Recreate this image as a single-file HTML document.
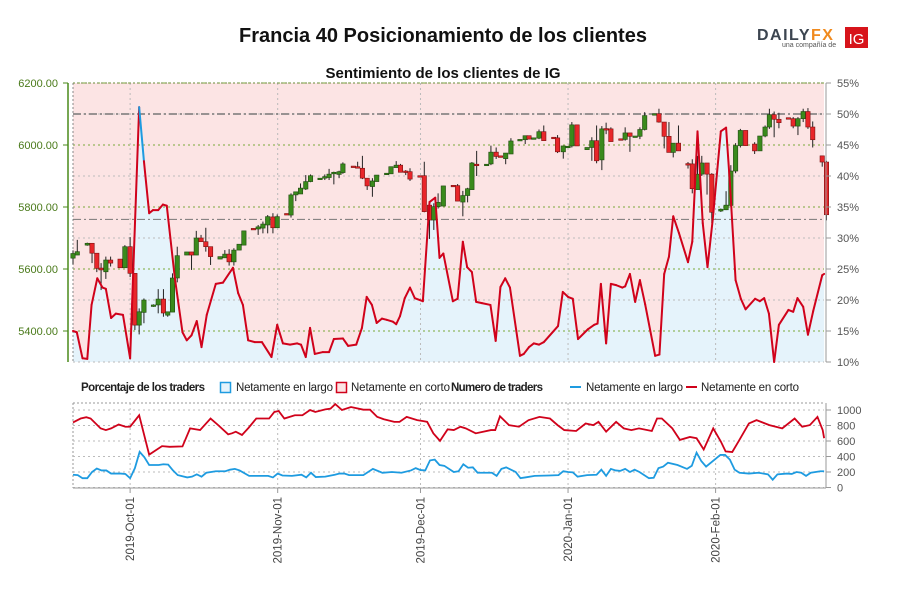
<!DOCTYPE html>
<html><head><meta charset="utf-8"><style>
html,body{margin:0;padding:0;background:#fff;}
svg{display:block;font-family:"Liberation Sans",sans-serif;}
</style></head><body>
<svg id="chart" width="900" height="600" viewBox="0 0 900 600">
<text x="443" y="42" text-anchor="middle" font-size="20" font-weight="bold" fill="#111">Francia 40 Posicionamiento de los clientes</text>
<g>
<text x="757" y="40" font-size="16" font-weight="bold" fill="#3c4550" letter-spacing="1.5">DAILY<tspan fill="#f08a1e">FX</tspan></text>
<text x="782" y="47" font-size="7" fill="#555">una compañía de</text>
<rect x="845" y="27" width="23" height="21" fill="#d7141b"/>
<text x="856.5" y="44" text-anchor="middle" font-size="15" fill="#fff">IG</text>
</g>
<text x="443" y="78" text-anchor="middle" font-size="15" font-weight="bold" fill="#111">Sentimiento de los clientes de IG</text>
<g id="main"></g>
<g id="legend">
<text x="81" y="391" font-size="11.5" font-weight="bold" fill="#222" textLength="124">Porcentaje de los traders</text>
<rect x="220.5" y="382.5" width="10" height="10" fill="#e5f3fb" stroke="#1e9be0" stroke-width="1.5"/>
<text x="236" y="391" font-size="11.5" fill="#222" textLength="97">Netamente en largo</text>
<rect x="336.5" y="382.5" width="10" height="10" fill="#fce4e4" stroke="#d0021b" stroke-width="1.5"/>
<text x="351" y="391" font-size="11.5" fill="#222" textLength="99">Netamente en corto</text>
<text x="451" y="391" font-size="11.5" font-weight="bold" fill="#222" textLength="92">Numero de traders</text>
<line x1="570" y1="387" x2="581" y2="387" stroke="#1e9be0" stroke-width="2"/>
<text x="586" y="391" font-size="11.5" fill="#222" textLength="97">Netamente en largo</text>
<line x1="686" y1="387" x2="697" y2="387" stroke="#d0021b" stroke-width="2"/>
<text x="701" y="391" font-size="11.5" fill="#222" textLength="98">Netamente en corto</text>
</g>
<g id="lower"></g>
</svg>
<script>
// ---- data ----
const monthLabels = ["2019-Oct-01","2019-Nov-01","2019-Dec-01","2020-Jan-01","2020-Feb-01"];
const monthDays = [12,43,73,104,135];
const priceTicks = [6200,6000,5800,5600,5400];
const pctTicks = [55,50,45,40,35,30,25,20,15,10];
const countTicks = [1000,800,600,400,200,0];
const levelHigh = 6100;
const levelLow = 5760;

const sentDays = [0,0.8,2,3,3.9,5.1,6.2,6.9,8,9,10.5,12,13.9,14.9,16,16.8,17.9,18.9,19.7,21.4,23,23.9,24.9,26,27,28.1,30,31.5,33.6,34.7,35.7,36.8,38.2,39.7,41.7,42.9,44.1,45.6,47.1,47.9,48.9,49.8,50.8,52.5,53.8,54.8,56.7,57.8,59.5,60.7,61.7,62.8,63.8,64.9,65.9,67.2,67.9,68.7,69.7,70.8,71.8,73.5,74.9,76.1,77,77.8,79.8,80.8,81.9,82.8,83.8,84.7,85.9,87.7,88.8,89.8,90.8,91.8,93.9,94.7,95.8,96.8,97.9,98.9,101.9,102.9,104,105,106.1,108.2,109.5,110.2,110.9,112,113,114.1,115.4,116,117,118.1,119.1,120.2,122.3,123.2,124.2,125.2,126.1,127.3,129.2,130.1,131.2,132.3,133.3,134.4,136.1,137.2,138,139.2,140.3,141.3,143.3,144.3,145.2,146.2,147.3,148.3,150.3,151.3,152.2,153.4,154.4,155.5,157.4,157.8];
const sentLong = [15,14.8,10.6,10.5,19.2,23.5,22,21.8,17.1,17.8,17.6,10.6,51.1,42.4,34,34.5,34.5,35.4,35.2,23.5,14.8,13.5,14.3,16.6,12.4,17.6,22.6,22.8,25.2,21.1,19.2,13.5,13.2,13.2,10.8,16,13,12.8,13,12.8,10.8,15.5,11.3,11.6,11.6,13.7,13.8,12.6,12.8,15.5,20.5,19.2,16.3,17,16.8,16.5,16.1,17.4,20.3,22,20.3,19.8,35.8,36.5,26.8,27.5,19.8,20.2,29.4,25.3,24.5,19.7,19.5,19.2,13.4,22.1,23.5,22,11,11.3,12.4,13,12.8,13.2,15.8,21.3,20.5,20.2,13.7,15.3,16,16.2,22.6,13,22.6,22.4,22,22.2,24.2,19.7,23.2,19.3,11,11.2,24.2,27,33.5,30.8,26.1,29.4,47.2,32.4,25.3,33,47.2,47.8,38.9,23.2,20.2,18.5,20.2,19.8,20.3,17.8,10,16,18.4,18.1,20.3,18.9,14.4,18.2,24,24.2];

const candleDays = [0,0.9,3,4,5,5.9,6.9,7.9,9.9,10.9,12,13,13.9,14.9,16.9,17.9,19,19.9,20.9,21.9,23.9,24.9,25.9,26.9,27.9,28.9,30.9,31.9,32.8,33.8,34.9,35.9,37.9,38.9,39.9,40.9,42,42.9,44.9,45.8,46.8,47.8,48.9,49.9,51.9,52.9,53.8,54.8,55.9,56.7,58.9,59.8,60.8,61.8,62.9,63.8,65.9,66.8,67.9,68.8,69.9,70.8,72.9,73.8,74.9,75.8,76.7,77.8,79.9,80.8,81.9,82.9,83.8,84.8,86.9,87.8,88.9,89.8,90.9,92,93.9,95,95.8,96.8,97.9,98.9,101,101.8,103,104,104.8,105.9,108,109,110,111.1,112,113,115.1,116,117,118.1,119.1,120.1,122.2,123.1,124.2,125.2,126.1,127.2,129.2,130.1,131.2,132.1,133.2,134.2,136.1,137.2,138.2,139.2,140.2,141.3,143.2,144.3,145.4,146.3,147.3,148.3,150.3,151.3,152.3,153.4,154.4,155.4,157.4,158.3];
const candleOpen = [5635,5645,5677,5683,5651,5603,5591,5629,5632,5604,5672,5586,5419,5460,5480,5484,5503,5451,5461,5571,5645,5655,5645,5700,5688,5672,5632,5636,5648,5623,5661,5677,5731,5729,5732,5742,5768,5733,5779,5774,5839,5842,5858,5882,5891,5893,5895,5907,5905,5911,5932,5930,5925,5893,5866,5882,5907,5907,5927,5935,5916,5914,5901,5901,5806,5758,5801,5803,5870,5869,5816,5837,5856,5938,5937,5939,5977,5965,5956,5971,6016,6017,6030,6022,6022,6043,6025,6023,5978,5995,5997,6065,5985,5992,6014,5952,6053,6052,6020,6018,6039,6028,6028,6050,6099,6101,6074,6028,5976,6006,5940,5939,5856,5906,5942,5906,5787,5791,5805,5916,5998,6047,6003,5981,6029,6058,6098,6083,6088,6085,6061,6085,6108,6058,5965,5945];
const candleClose = [5650,5656,5683,5651,5602,5597,5629,5619,5604,5672,5586,5419,5462,5500,5484,5503,5458,5462,5571,5643,5655,5645,5700,5688,5672,5640,5640,5648,5623,5661,5680,5723,5729,5736,5745,5769,5733,5769,5776,5839,5849,5861,5882,5901,5893,5898,5906,5912,5914,5939,5930,5927,5893,5868,5884,5903,5909,5930,5935,5912,5912,5890,5899,5785,5758,5801,5815,5868,5866,5819,5837,5859,5942,5934,5938,5977,5963,5960,5974,6013,6018,6030,6019,6023,6043,6014,6024,5978,5997,5996,6065,5997,5992,6014,5949,6052,6050,6011,6018,6039,6028,6029,6050,6095,6101,6074,6028,5976,6006,5981,5938,5859,5906,5942,5906,5783,5793,5806,5916,5998,6047,5998,5981,6029,6058,6098,6083,6072,6086,6061,6085,6108,6058,6017,5945,5775];
const candleHigh = [5660,5694,5685,5683,5651,5619,5640,5640,5632,5677,5703,5586,5473,5505,5486,5535,5535,5462,5586,5672,5655,5655,5723,5710,5733,5672,5640,5661,5664,5667,5680,5723,5731,5742,5753,5774,5780,5776,5779,5844,5849,5876,5903,5905,5893,5905,5923,5914,5917,5944,5932,5946,5965,5893,5893,5903,5909,5930,5948,5939,5919,5925,5901,5946,5812,5812,5844,5868,5870,5874,5852,5862,5945,5981,5938,5998,5992,5965,5974,6022,6018,6030,6030,6023,6050,6063,6025,6032,5997,5996,6074,6065,5992,6025,6063,6061,6072,6057,6020,6057,6039,6029,6057,6106,6101,6117,6074,6074,6006,6063,5945,5954,5965,5965,5942,5909,5795,5851,5935,6006,6052,6047,6009,6029,6063,6117,6108,6104,6088,6090,6090,6117,6119,6076,5965,5949];
const candleLow = [5615,5645,5675,5619,5590,5532,5568,5608,5604,5604,5574,5403,5389,5425,5478,5457,5446,5446,5461,5557,5645,5597,5645,5688,5656,5613,5632,5636,5611,5611,5661,5677,5729,5710,5715,5715,5715,5733,5776,5766,5819,5842,5855,5880,5891,5887,5887,5873,5893,5907,5930,5927,5890,5855,5833,5882,5907,5907,5927,5912,5903,5884,5899,5783,5697,5726,5795,5803,5866,5819,5770,5815,5856,5900,5937,5935,5955,5960,5938,5971,6016,6003,6019,6022,6019,6014,6024,5974,5956,5995,5992,5997,5985,5949,5941,5919,6035,6011,6018,6014,5978,6028,6019,6047,6099,6072,5989,5976,5960,5981,5924,5844,5856,5900,5840,5748,5784,5790,5800,5909,5992,5998,5971,5981,6025,6052,6025,6054,6086,6054,6032,6074,6052,5992,5930,5757];

const shortDays = [0,1.6,2.8,3.7,5.8,6.9,8,9.6,11,12,13.9,16,18.7,20.3,23,24.6,26.7,28.9,30.5,32.6,33.4,34.2,35.5,36.9,38.5,41.2,42.3,43.2,44.4,46.6,48.2,49.8,50.9,53,54.1,55.1,56.5,58.4,61,62.4,63.9,65.3,67.5,68.6,70.1,72.3,73.6,74.4,75.7,77.1,78.7,80,81.4,82.5,84.6,87.8,88.7,89.7,91.6,93.7,95.7,98,100.2,101.8,103.2,105.7,107.7,109.3,110.4,112,114.1,115.7,117.3,118.9,121.6,122.7,123.7,125.9,127.5,129.6,131,132.5,134.5,136.1,137.1,138.5,139.8,142,143.6,146.3,149,151.6,153.2,154.8,156.4,157.5,157.8];
const shortCount = [840,890,907,890,763,741,763,813,784,784,932,424,534,525,530,763,741,890,805,686,699,720,678,771,890,890,975,987,890,932,932,1000,975,1008,1017,1076,1000,1038,1004,1004,911,881,847,847,911,869,856,847,699,602,750,741,784,763,699,741,741,919,805,784,869,911,890,805,741,729,826,805,847,720,847,763,741,763,729,890,890,763,614,652,636,490,763,593,466,458,593,826,869,805,763,890,784,805,911,741,636,636];
const longDays = [0,1,2,3,4,5,6,7,8,10,11,12,13,14,15,16,18,19,20,21,22,24,25,26,27,28,30,32,33,34,35,37,39,41,42,43,44,46,48,49,50,51,53,55,56,57,58,61,63,65,67,69,71,72,73,74,75,76,77,78,80,81,82,83,84,85,88,89,90,91,92,93,94,95,97,100,102,103,104,105,106,108,110,111,112,113,114,115,116,117,118,119,121,122,123,124,125,127,129,130,131,132,133,135,136,137,138,139,140,142,144,146,147,148,150,151,152,153,154,155,157,157.8];
const longCount = [165,160,120,120,200,245,220,220,180,180,175,120,250,460,390,290,290,300,295,220,160,130,140,170,140,190,210,210,230,240,220,150,150,150,130,180,155,150,165,130,190,135,140,165,180,180,160,160,240,190,200,190,220,250,225,220,350,360,290,280,200,210,300,255,260,190,190,150,240,260,230,200,120,130,150,155,160,210,200,195,140,160,165,230,150,240,220,215,240,200,230,200,120,125,250,270,320,290,240,280,450,340,270,370,420,420,360,230,190,180,190,170,100,170,180,175,200,190,150,190,210,210];

// ---- scales ----
const X = d => 73 + d * 4.76;
const YP = p => 83 + (6200 - p) * 0.31;
const YS = s => 83 + (55 - s) * 6.2;
const YC = v => 487.5 - v * 0.0775;
const NS = "http://www.w3.org/2000/svg";
function mk(parent, tag, attrs) {
  const el = document.createElementNS(NS, tag);
  for (const k in attrs) el.setAttribute(k, attrs[k]);
  parent.appendChild(el);
  return el;
}
const main = document.getElementById('main');
const lower = document.getElementById('lower');

// main background
let bg = mk(main, 'rect', {x:73, y:83, width:751, height:279, fill:'#fce4e4'});


let areaPts = sentDays.map((d,i)=>X(d)+','+YS(sentLong[i])).join(' ');
areaPts = X(sentDays[0])+',362 ' + areaPts + ' ' + X(sentDays[sentDays.length-1]) + ',362';
let area = mk(main, 'polygon', {points: areaPts, fill:'#e5f3fb'});



// grid
pctTicks.forEach((p,i)=>{
  const g = mk(main,'line',{x1:73,x2:824,y1:YS(p),y2:YS(p),stroke:(i%2==0)?'#7aa83a':'#bbb','stroke-width':1,'stroke-dasharray':'2,3'});
  
  
});
monthDays.forEach((d,i)=>{
  const g = mk(main,'line',{x1:X(d),x2:X(d),y1:83,y2:362,stroke:'#bbb','stroke-dasharray':'2,3'});
  
  
});
let lb = mk(main,'line',{x1:73,x2:73,y1:83,y2:362,stroke:'#888','stroke-dasharray':'2,2'});


let tb = mk(main,'line',{x1:73,x2:824,y1:83,y2:83,stroke:'#6a8a3a','stroke-dasharray':'2,2'});


let hl = mk(main,'line',{x1:73,x2:824,y1:YP(levelHigh),y2:YP(levelHigh),stroke:'#777','stroke-width':1.5,'stroke-dasharray':'8,3,2,3'});


let ll = mk(main,'line',{x1:73,x2:824,y1:YP(levelLow),y2:YP(levelLow),stroke:'#777','stroke-width':1,'stroke-dasharray':'8,3,2,3'});



// candles
candleDays.forEach((d,i)=>{
  const o=candleOpen[i], c=candleClose[i], up=c>=o;
  const x=X(d);
  const w = mk(main,'line',{x1:x,x2:x,y1:YP(candleHigh[i]),y2:YP(candleLow[i]),stroke:'#222','stroke-width':1});
  
  
  const top=YP(Math.max(o,c)), h=Math.max(1.5,Math.abs(YP(o)-YP(c)));
  const b = mk(main,'rect',{x:x-2.2,y:top,width:4.4,height:h,fill:up?'#3a8a1c':'#e8262a',stroke:up?'#1f4a10':'#7a1010','stroke-width':0.6});
  
  
});

// sentiment line
for (let i=0;i<sentDays.length-1;i++){
  const s = mk(main,'line',{x1:X(sentDays[i]),y1:YS(sentLong[i]),x2:X(sentDays[i+1]),y2:YS(sentLong[i+1]),stroke:sentLong[i]>50?'#1e9be0':'#d0021b','stroke-width':2,'stroke-linecap':'round'});
  
  
}

// left axis
let la = mk(main,'line',{x1:68,x2:68,y1:83,y2:362,stroke:'#4a8a1a','stroke-width':1.5});


priceTicks.forEach(p=>{
  const t = mk(main,'line',{x1:63,x2:68,y1:YP(p),y2:YP(p),stroke:'#4a8a1a'});
  
  
  const tx = mk(main,'text',{x:58,y:YP(p)+4,'text-anchor':'end','font-size':11,fill:'#4a7a1a'});
  tx.textContent = p.toFixed(2);
  
  
});
let ra = mk(main,'line',{x1:826,x2:826,y1:83,y2:362,stroke:'#999'});


pctTicks.forEach(p=>{
  const t = mk(main,'line',{x1:826,x2:831,y1:YS(p),y2:YS(p),stroke:'#999'});
  
  
  const tx = mk(main,'text',{x:837,y:YS(p)+4,'font-size':11,fill:'#555'});
  tx.textContent = p+'%';
  
  
});

// lower chart
let lt = mk(lower,'line',{x1:73,x2:824,y1:403,y2:403,stroke:'#999','stroke-dasharray':'2,2'});


let ll2 = mk(lower,'line',{x1:73,x2:73,y1:403,y2:488,stroke:'#999','stroke-dasharray':'2,2'});


countTicks.forEach(v=>{
  const g = mk(lower,'line',{x1:73,x2:824,y1:YC(v),y2:YC(v),stroke:'#bbb','stroke-dasharray':'2,3'});
  
  
  const t = mk(lower,'line',{x1:826,x2:831,y1:YC(v),y2:YC(v),stroke:'#999'});
  
  
  const tx = mk(lower,'text',{x:837,y:YC(v)+4,'font-size':11,fill:'#555'});
  tx.textContent = v;
  
  
});
let ra2 = mk(lower,'line',{x1:826,x2:826,y1:403,y2:488,stroke:'#999'});


let xa = mk(lower,'line',{x1:73,x2:826,y1:488,y2:488,stroke:'#999'});


monthDays.forEach((d,i)=>{
  const g = mk(lower,'line',{x1:X(d),x2:X(d),y1:403,y2:488,stroke:'#bbb','stroke-dasharray':'2,3'});
  
  
  const t = mk(lower,'line',{x1:X(d),x2:X(d),y1:488,y2:493,stroke:'#999'});
  
  
  const tx = mk(lower,'text',{x:0,y:0,'text-anchor':'end','font-size':11.5,fill:'#444',transform:'translate('+(X(d)+4)+',497) rotate(-90)'});
  tx.textContent = monthLabels[i];
  
  
});
let sl = mk(lower,'polyline',{points:shortDays.map((d,i)=>X(d)+','+YC(shortCount[i])).join(' '),fill:'none',stroke:'#d0021b','stroke-width':1.8});


let lg = mk(lower,'polyline',{points:longDays.map((d,i)=>X(d)+','+YC(longCount[i])).join(' '),fill:'none',stroke:'#1e9be0','stroke-width':1.8});


</script>
</body></html>
